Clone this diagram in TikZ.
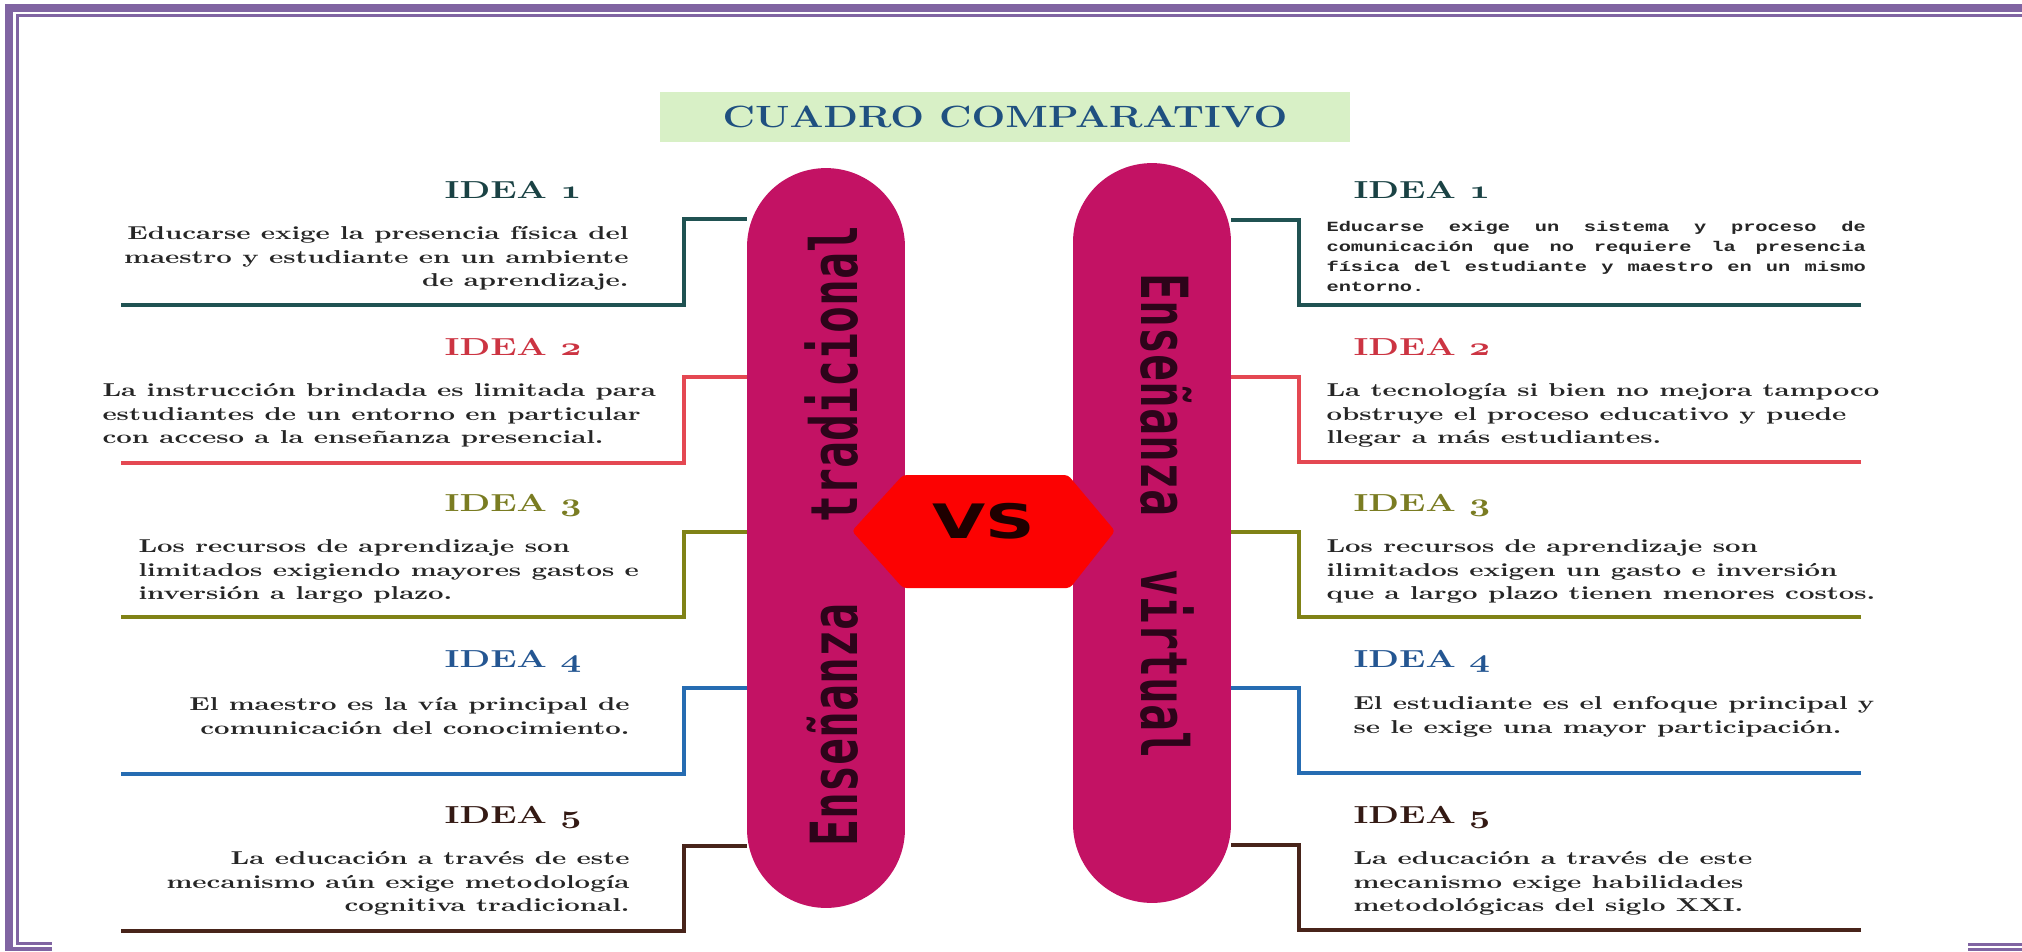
\documentclass[tikz,border=0pt]{standalone}
\usepackage{fontspec}
\usetikzlibrary{backgrounds}
\newfontfamily\pillfont{DejaVu Sans Mono}
\newfontfamily\vsfont{DejaVu Sans}
\newfontfamily\typefont{Liberation Mono}
\definecolor{framePurple}{RGB}{128,100,162}
\definecolor{titleGreen}{RGB}{216,240,198}
\definecolor{titleBlue}{RGB}{31,80,128}
\definecolor{pillMagenta}{RGB}{195,18,100}
\definecolor{pillInk}{RGB}{45,4,26}
\definecolor{vsRed}{RGB}{252,2,2}
\definecolor{vsInk}{RGB}{30,0,0}
\definecolor{ideaTeal}{RGB}{32,82,82}
\definecolor{ideaRed}{RGB}{228,72,82}
\definecolor{ideaOlive}{RGB}{128,130,22}
\definecolor{ideaBlue}{RGB}{38,108,178}
\definecolor{ideaBrown}{RGB}{72,36,26}
\definecolor{headTeal}{RGB}{26,66,68}
\definecolor{headRed}{RGB}{204,52,66}
\definecolor{headOlive}{RGB}{122,124,34}
\definecolor{headBlue}{RGB}{36,86,146}
\definecolor{headBrown}{RGB}{52,26,20}
\newcommand{\osn}[1]{{\usefont{OML}{cmm}{b}{it}#1}}

\begin{document}
\begin{tikzpicture}[x=0.02cm, y=-0.02cm,
  txt/.style={xscale=1.45, inner sep=0pt},
  ideahead/.style={txt, font=\fontsize{14}{14}\selectfont\bfseries},
  ideatext/.style={txt, font=\fontsize{10.6}{13.5}\selectfont\bfseries, text=black!85},
  pillbox/.style={fill=pillMagenta, minimum width=3.16cm, minimum height=14.8cm, rounded corners=1.58cm, inner sep=0pt},
  pilltext/.style={txt, font=\pillfont\bfseries\fontsize{25.5}{25.5}\selectfont, text=pillInk},
  linkline/.style={line width=2.2pt}]
\useasboundingbox (0,0) rectangle (2022,951);

% Page border
\fill[framePurple] (5,4) rectangle (2022,12);
\fill[framePurple] (5,4) rectangle (13,951);
\fill[framePurple] (16,14) rectangle (2022,17);
\fill[framePurple] (16,14) rectangle (19,945);
\fill[framePurple] (16,942) rectangle (52,945);
\fill[framePurple] (5,947) rectangle (52,951);
\fill[framePurple] (1968,943) rectangle (2022,946);
\fill[framePurple] (1968,948) rectangle (2022,951);

% Title
\node[inner sep=0pt, xscale=1.3, fill=titleGreen, minimum width=10.62cm, minimum height=1cm, font=\fontsize{17.5}{17.5}\selectfont\bfseries, text=titleBlue] (title) at (1005,117) {CUADRO COMPARATIVO};

% Pills
\node[pillbox] (pillL) at (826,538) {};
\node[pillbox] (pillR) at (1152,533) {};

% VS
\fill[vsRed, rounded corners=2pt] (852,531) -- (903,475) -- (1068,475) -- (1115,531) -- (1070,588) -- (903,588) -- cycle;
\node[txt, font=\vsfont\bfseries\fontsize{27}{27}\selectfont, text=vsInk] (vs) at (984,521) {VS};

% Pill labels
\node[pilltext, rotate=90] (labL) at (832,536) {Enseñanza~~~tradicional};
\node[pilltext, rotate=-90] (labR) at (1167,516) {Enseñanza~~virtual};

% Connectors
\begin{scope}[on background layer]
\coordinate (K1) at (684,219); \coordinate (L1) at (121,305);
\coordinate (K2) at (684,377); \coordinate (L2) at (121,463);
\coordinate (K3) at (684,532); \coordinate (L3) at (121,617);
\coordinate (K4) at (684,688); \coordinate (L4) at (121,774);
\coordinate (K5) at (684,846); \coordinate (L5) at (121,931);
\draw[linkline, ideaTeal] (L1) -| (K1) -- (K1 -| pillL.west);
\draw[linkline, ideaRed] (L2) -| (K2) -- (K2 -| pillL.west);
\draw[linkline, ideaOlive] (L3) -| (K3) -- (K3 -| pillL.west);
\draw[linkline, ideaBlue] (L4) -| (K4) -- (K4 -| pillL.west);
\draw[linkline, ideaBrown] (L5) -| (K5) -- (K5 -| pillL.west);

\coordinate (J1) at (1299,220); \coordinate (R1) at (1861,305);
\coordinate (J2) at (1299,377); \coordinate (R2) at (1861,462);
\coordinate (J3) at (1299,532); \coordinate (R3) at (1861,617);
\coordinate (J4) at (1299,688); \coordinate (R4) at (1861,773);
\coordinate (J5) at (1299,845); \coordinate (R5) at (1861,930);
\draw[linkline, ideaTeal] (R1) -| (J1) -- (J1 -| pillR.east);
\draw[linkline, ideaRed] (R2) -| (J2) -- (J2 -| pillR.east);
\draw[linkline, ideaOlive] (R3) -| (J3) -- (J3 -| pillR.east);
\draw[linkline, ideaBlue] (R4) -| (J4) -- (J4 -| pillR.east);
\draw[linkline, ideaBrown] (R5) -| (J5) -- (J5 -| pillR.east);
\end{scope}

% Headings
\node[ideahead, text=headTeal] (hL1) at (513,190) {IDEA \osn{1}};
\node[ideahead, text=headRed] (hL2) at (513,347) {IDEA \osn{2}};
\node[ideahead, text=headOlive] (hL3) at (513,505) {IDEA \osn{3}};
\node[ideahead, text=headBlue] (hL4) at (513,661) {IDEA \osn{4}};
\node[ideahead, text=headBrown] (hL5) at (513,817) {IDEA \osn{5}};
\node[ideahead, text=headTeal, anchor=west] (hR1) at (1353,190) {IDEA \osn{1}};
\node[ideahead, text=headRed, anchor=west] (hR2) at (1353,347) {IDEA \osn{2}};
\node[ideahead, text=headOlive, anchor=west] (hR3) at (1353,505) {IDEA \osn{3}};
\node[ideahead, text=headBlue, anchor=west] (hR4) at (1353,661) {IDEA \osn{4}};
\node[ideahead, text=headBrown, anchor=west] (hR5) at (1353,817) {IDEA \osn{5}};

% Left texts
\node[ideatext, anchor=north east, align=right] (tL1) at (629,226) {Educarse exige la presencia física del\\maestro y estudiante en un ambiente\\de aprendizaje.};
\node[ideatext, anchor=north west, align=left] (tL2) at (102,383) {La instrucción brindada es limitada para\\estudiantes de un entorno en particular\\con acceso a la enseñanza presencial.};
\node[ideatext, anchor=north west, align=left] (tL3) at (138,539) {Los recursos de aprendizaje son\\limitados exigiendo mayores gastos e\\inversión a largo plazo.};
\node[ideatext, anchor=north east, align=right] (tL4) at (630,697) {El maestro es la vía principal de\\comunicación del conocimiento.};
\node[ideatext, anchor=north east, align=right] (tL5) at (630,851) {La educación a través de este\\mecanismo aún exige metodología\\cognitiva tradicional.};

% Right texts
\node[txt, anchor=north west, text width=7.44cm, align=justify, font=\typefont\bfseries\fontsize{8}{11.4}\selectfont, text=black!85] (tR1) at (1326,221) {\spaceskip=4.8pt plus 8pt minus .5pt\relax\noindent Educarse exige un sistema y proceso de\linebreak comunicación que no requiere la presencia\linebreak física del estudiante y maestro en un mismo\linebreak entorno.};
\node[ideatext, anchor=north west, align=left] (tR2) at (1326,383) {La tecnología si bien no mejora tampoco\\obstruye el proceso educativo y puede\\llegar a más estudiantes.};
\node[ideatext, anchor=north west, align=left] (tR3) at (1326,539) {Los recursos de aprendizaje son\\ilimitados exigen un gasto e inversión\\que a largo plazo tienen menores costos.};
\node[ideatext, anchor=north west, align=left] (tR4) at (1353,696) {El estudiante es el enfoque principal y\\se le exige una mayor participación.};
\node[ideatext, anchor=north west, align=left] (tR5) at (1353,851) {La educación a través de este\\mecanismo exige habilidades\\metodológicas del siglo XXI.};
\end{tikzpicture}
\end{document}
